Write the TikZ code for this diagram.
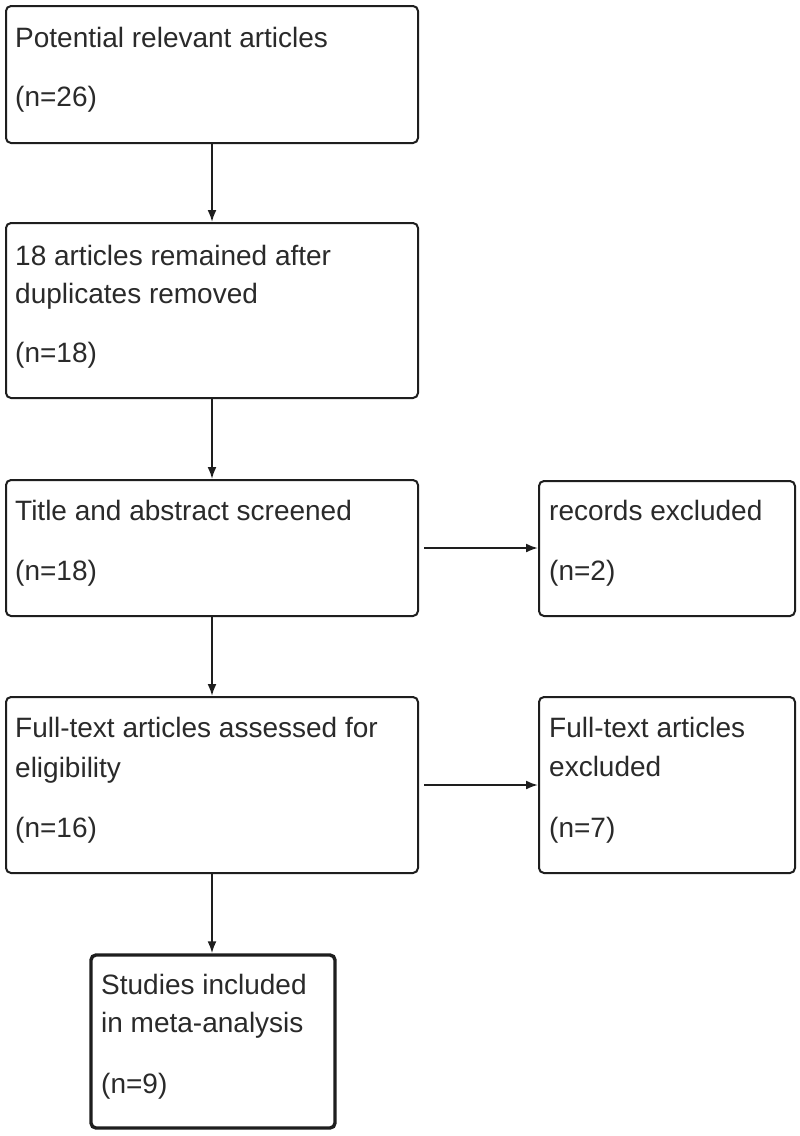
\documentclass[tikz,border=0pt]{standalone}
\usepackage{fontspec}
\setmainfont{Liberation Sans}
\usetikzlibrary{arrows.meta}
\definecolor{ink}{HTML}{1E1E1E}
\definecolor{txtc}{HTML}{2A2A2A}
\begin{document}
\begin{tikzpicture}[x=1pt,y=-1pt,
  box/.style={draw=ink, line width=2pt, rounded corners=5pt, inner sep=0pt, fill=white},
  finalbox/.style={box, line width=3.4pt},
  txt/.style={anchor=base west, inner sep=0pt, text=txtc, font=\fontsize{28pt}{34pt}\selectfont},
  arr/.style={draw=ink, line width=2pt, -{Latex[length=12pt,width=9pt]}}]
\useasboundingbox[fill=white] (0,0) rectangle (800,1136);

\node[box, minimum width=412pt, minimum height=137pt] (b1) at (212,74.5) {};
\node[box, minimum width=412pt, minimum height=175pt] (b2) at (212,310.5) {};
\node[box, minimum width=412pt, minimum height=136pt] (b3) at (212,548) {};
\node[box, minimum width=256pt, minimum height=135pt] (r1) at (667,548.5) {};
\node[box, minimum width=412pt, minimum height=176pt] (b4) at (212,785) {};
\node[box, minimum width=256pt, minimum height=176pt] (r2) at (667,785) {};
\node[finalbox, minimum width=244pt, minimum height=173pt] (b5) at (213,1041.5) {};

\node[txt] (t1a) at (15,47) {Potential relevant articles};
\node[txt] (t1b) at (15,106) {(n=26)};

\node[txt] (t2a) at (15,265) {18 articles remained after};
\node[txt] (t2b) at (15,303) {duplicates removed};
\node[txt] (t2c) at (15,362) {(n=18)};

\node[txt] (t3a) at (15,520) {Title and abstract screened};
\node[txt] (t3b) at (15,580) {(n=18)};

\node[txt] (r1a) at (549,520) {records excluded};
\node[txt] (r1b) at (549,580) {(n=2)};

\node[txt] (t4a) at (15,737) {Full-text articles assessed for};
\node[txt] (t4b) at (15,777) {eligibility};
\node[txt] (t4c) at (15,837) {(n=16)};

\node[txt] (r2a) at (549,737) {Full-text articles};
\node[txt] (r2b) at (549,776) {excluded};
\node[txt] (r2c) at (549,837) {(n=7)};

\node[txt] (t5a) at (101,994) {Studies included};
\node[txt] (t5b) at (101,1032) {in meta-analysis};
\node[txt] (t5c) at (101,1093) {(n=9)};

\draw[arr] (b1.south) -- (b2.north);
\draw[arr] (b2.south) -- (b3.north);
\draw[arr] (b3.south) -- (b4.north);
\draw[arr] (b4.south) -- (b4.south |- b5.north);
\draw[arr, shorten <=5pt] (b3.east) -- (b3.east -| r1.west);
\draw[arr, shorten <=5pt] (b4.east) -- (b4.east -| r2.west);
\end{tikzpicture}
\end{document}
